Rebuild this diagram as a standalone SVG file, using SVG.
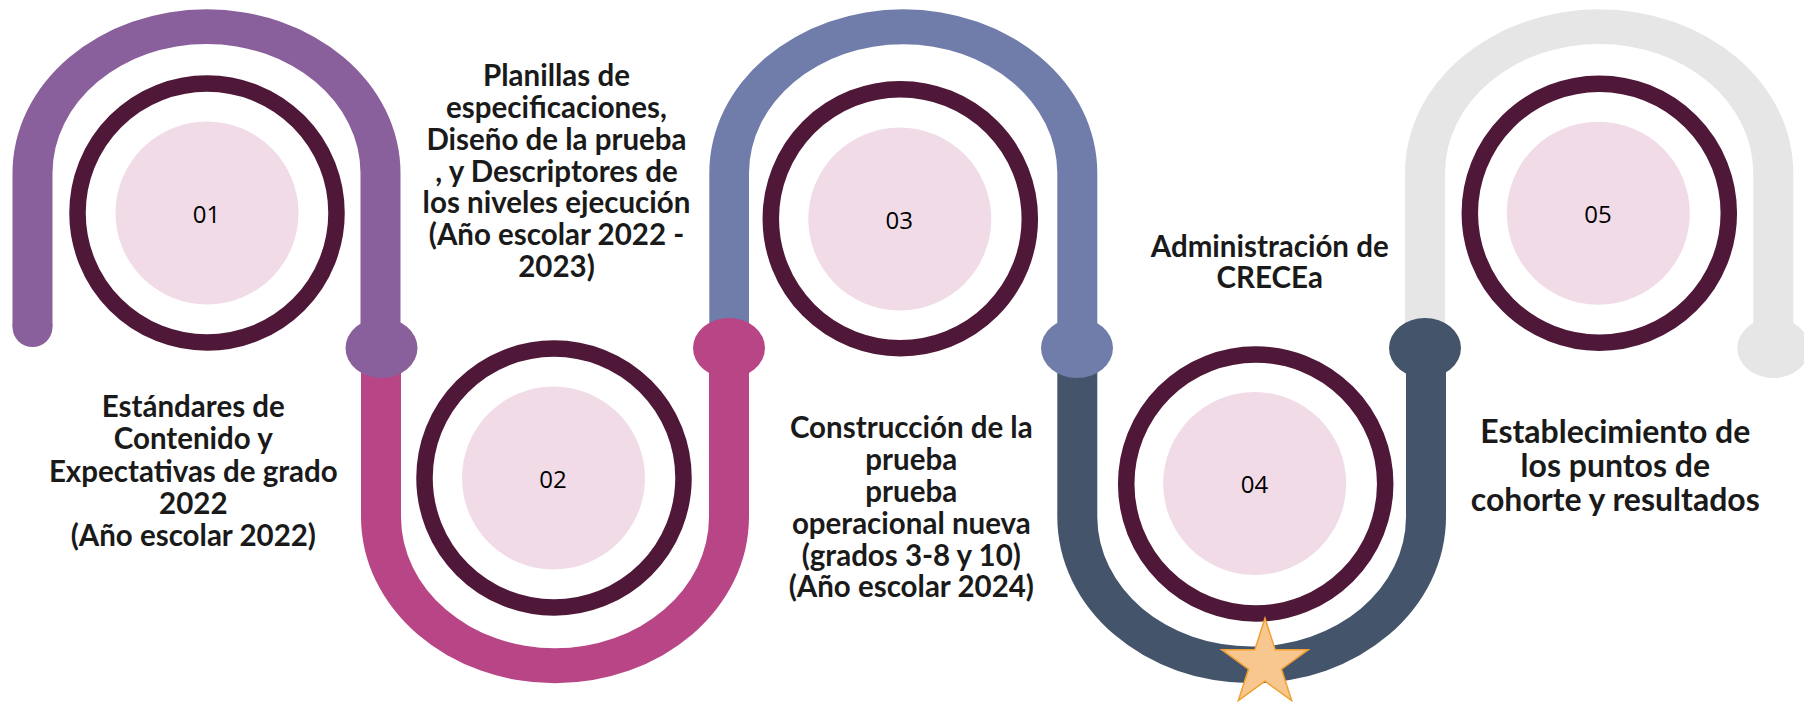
<svg xmlns="http://www.w3.org/2000/svg" width="1804" height="702" viewBox="0 0 1804 702">
<style>
.ring{fill:none;stroke:#4F1838;stroke-width:16.5}
.core{fill:#F0DBE7}
.num{font-family:"Open Sans","Noto Sans",sans-serif;font-size:24px;fill:#000;text-anchor:middle}
.lbl{font-family:Lato,"Liberation Sans",sans-serif;font-weight:bold;font-size:29.5px;fill:#1a1a1a;text-anchor:middle}
.lbl5{font-size:32px}
.c1{fill:#8A609C}.c2{fill:#B84686}.c3{fill:#707DAA}.c4{fill:#44546A}.c5{fill:#E6E6E6}
</style>
<g id="connectors">
  <g id="seg1">
    <circle class="c1" cx="32.5" cy="327" r="20"/>
    <path class="c1" d="M12.5,327 L12.5,173 A194,163.7 0 0 1 400.5,173 L400.5,348 L360.5,348 L360.5,173 A154,129 0 0 0 52.5,173 L52.5,327 Z"/>
  </g>
  <g id="seg2">
    <path class="c2" d="M361,348 L361,517 A194,166.3 0 0 0 749,517 L749,348 L709,348 L709,517 A154,131.3 0 0 1 401,517 L401,348 Z"/>
  </g>
  <g id="seg3">
    <path class="c3" d="M709.3,348 L709.3,173 A194,163.7 0 0 1 1097.3,173 L1097.3,348 L1057.3,348 L1057.3,173 A154.15,128.7 0 0 0 749,173 L749,348 Z"/>
  </g>
  <g id="seg4">
    <path class="c4" d="M1057.3,348 L1057.3,517 A194.35,166.3 0 0 0 1446,517 L1446,348 L1406,348 L1406,517 A154.35,129.7 0 0 1 1097.3,517 L1097.3,348 Z"/>
  </g>
  <g id="seg5">
    <path class="c5" d="M1405,348 L1405,173 A194.15,163.7 0 0 1 1793.3,173 L1793.3,348 L1753.3,348 L1753.3,173 A154.15,129 0 0 0 1445,173 L1445,348 Z"/>
  </g>
  <ellipse id="knob1" class="c1" cx="381.5" cy="348" rx="36" ry="30"/>
  <ellipse id="knob2" class="c2" cx="729" cy="348" rx="36" ry="30"/>
  <ellipse id="knob3" class="c3" cx="1077" cy="348" rx="36" ry="30"/>
  <ellipse id="knob4" class="c4" cx="1425" cy="348" rx="36" ry="30"/>
  <ellipse id="knob5" class="c5" cx="1773.3" cy="348" rx="36" ry="30"/>
</g>

<g id="node1">
  <circle class="ring" cx="207" cy="213" r="129.5"/>
  <circle class="core" cx="207" cy="213" r="91.5"/>
  <text class="num" x="206.5" y="222.5">01</text>
</g>
<g id="node2">
  <circle class="ring" cx="554" cy="478" r="129.5"/>
  <circle class="core" cx="553.5" cy="478" r="91.5"/>
  <text class="num" x="553" y="488">02</text>
</g>
<g id="node3">
  <circle class="ring" cx="900.3" cy="218.7" r="129.5"/>
  <circle class="core" cx="899.8" cy="219" r="91.5"/>
  <text class="num" x="899.3" y="229">03</text>
</g>
<g id="node4">
  <circle class="ring" cx="1255.7" cy="484" r="129.5"/>
  <circle class="core" cx="1254.7" cy="483.5" r="91.5"/>
  <text class="num" x="1254.5" y="492.7">04</text>
</g>
<g id="node5">
  <circle class="ring" cx="1599.3" cy="213.2" r="129.5"/>
  <circle class="core" cx="1598.3" cy="213.2" r="91.5"/>
  <text class="num" x="1598" y="222.7">05</text>
</g>

<g id="star">
  <polygon points="1265,618.3 1275.2,649.7 1308.3,649.7 1281.5,669.2 1291.7,700.6 1265,681.2 1238.3,700.6 1248.5,669.2 1221.7,649.7 1254.8,649.7" fill="#F8C78F" stroke="#EFA030" stroke-width="1.5" stroke-linejoin="miter"/>
</g>

<g id="label1" class="lbl">
  <text x="193.3" y="417.3">Estándares de</text>
  <text x="193.3" y="449.3">Contenido y</text>
  <text x="193.3" y="481.5">Expectativas de grado</text>
  <text x="193.3" y="513.5">2022</text>
  <text x="193.3" y="545.7">(Año escolar 2022)</text>
</g>
<g id="label2" class="lbl">
  <text x="556.5" y="85.7">Planillas de</text>
  <text x="556.5" y="117.6">especificaciones,</text>
  <text x="556.5" y="149.6">Diseño de la prueba</text>
  <text x="556.5" y="181.5">, y Descriptores de</text>
  <text x="556.5" y="213.4">los niveles ejecución</text>
  <text x="556.5" y="245.4">(Año escolar 2022 -</text>
  <text x="556.5" y="277.3">2023)</text>
</g>
<g id="label3" class="lbl">
  <text x="911.3" y="438.3">Construcción de la</text>
  <text x="911.3" y="470.1">prueba</text>
  <text x="911.3" y="501.9">prueba</text>
  <text x="911.3" y="533.7">operacional nueva</text>
  <text x="911.3" y="565.5">(grados 3-8 y 10)</text>
  <text x="911.3" y="597.3">(Año escolar 2024)</text>
</g>
<g id="label4" class="lbl">
  <text x="1269.7" y="256.7">Administración de</text>
  <text x="1269.7" y="288">CRECEa</text>
</g>
<g id="label5" class="lbl lbl5">
  <text x="1615.3" y="443.3">Establecimiento de</text>
  <text x="1615.3" y="477">los puntos de</text>
  <text x="1615.3" y="510.7">cohorte y resultados</text>
</g>
</svg>
